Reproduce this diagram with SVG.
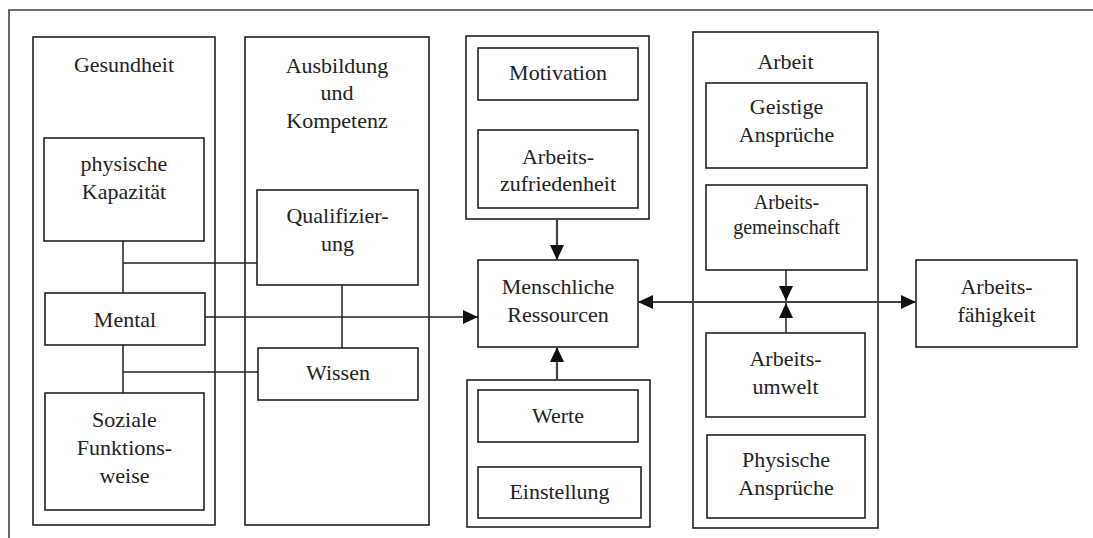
<svg xmlns="http://www.w3.org/2000/svg" width="1093" height="538" viewBox="0 0 1093 538">
<style>
.b{fill:#fff;stroke:#222;stroke-width:1.6}
.g{fill:none;stroke:#222;stroke-width:1.6}
text{font-size:22px;fill:#222;text-anchor:middle}
.s{font-size:20px}
.c{fill:none;stroke:#222;stroke-width:1.5}
.a{fill:none;stroke:#444;stroke-width:2.2}
.f{fill:none;stroke:#444;stroke-width:1.6}
</style>
<defs>
<marker id="ah" markerUnits="userSpaceOnUse" markerWidth="15" markerHeight="14" refX="15" refY="7" orient="auto-start-reverse">
<path d="M0,0 L15,7 L0,14 z" fill="#111"/>
</marker>
</defs>
<rect width="1093" height="538" fill="#fff"/>
<g id="frame">
<path class="f" d="M9,538 L9,10 L1093,10"/>
</g>
<g font-family="Liberation Serif, serif">
<g id="gesundheit">
<rect class="g" x="33" y="37" width="182" height="488"/>
<text x="124" y="72">Gesundheit</text>
</g>
<g id="physische">
<rect class="b" x="44" y="138" width="160" height="103"/>
<text x="124" y="171">physische</text>
<text x="124" y="199">Kapazität</text>
</g>
<g id="mental">
<rect class="b" x="45" y="293" width="160" height="52"/>
<text x="125" y="327">Mental</text>
</g>
<g id="soziale">
<rect class="b" x="45" y="393" width="159" height="117"/>
<text x="124.5" y="427">Soziale</text>
<text x="124.5" y="455">Funktions-</text>
<text x="124.5" y="483">weise</text>
</g>
<g id="ausbildung">
<rect class="g" x="245" y="37" width="184" height="488"/>
<text x="337" y="73">Ausbildung</text>
<text x="337" y="100">und</text>
<text x="337" y="128">Kompetenz</text>
</g>
<g id="qualifizierung">
<rect class="b" x="257" y="190" width="161" height="95"/>
<text x="337.5" y="223">Qualifizier-</text>
<text x="337.5" y="251">ung</text>
</g>
<g id="wissen">
<rect class="b" x="258" y="348" width="160" height="52"/>
<text x="338" y="380">Wissen</text>
</g>
<g id="gruppe-oben">
<rect class="g" x="466" y="36" width="183" height="183"/>
</g>
<g id="motivation">
<rect class="b" x="478" y="48" width="160" height="52"/>
<text x="558" y="80">Motivation</text>
</g>
<g id="arbeitszufriedenheit">
<rect class="b" x="478" y="130" width="160" height="78"/>
<text x="558" y="164">Arbeits-</text>
<text x="558" y="191">zufriedenheit</text>
</g>
<g id="menschliche-ressourcen">
<rect class="b" x="478" y="260" width="160" height="87"/>
<text x="558" y="294">Menschliche</text>
<text x="558" y="322">Ressourcen</text>
</g>
<g id="gruppe-unten">
<rect class="g" x="467" y="380" width="183" height="147"/>
</g>
<g id="werte">
<rect class="b" x="478" y="390" width="160" height="52"/>
<text x="558" y="423">Werte</text>
</g>
<g id="einstellung">
<rect class="b" x="478" y="467" width="163" height="51"/>
<text x="559.5" y="499">Einstellung</text>
</g>
<g id="arbeit">
<rect class="g" x="693" y="32" width="185" height="496"/>
<text x="785.5" y="69">Arbeit</text>
</g>
<g id="geistige">
<rect class="b" x="706" y="83" width="161" height="85"/>
<text x="786.5" y="114">Geistige</text>
<text x="786.5" y="142">Ansprüche</text>
</g>
<g id="arbeitsgemeinschaft">
<rect class="b" x="706" y="185" width="161" height="85"/>
<text class="s" x="786.5" y="209">Arbeits-</text>
<text class="s" x="786.5" y="234">gemeinschaft</text>
</g>
<g id="arbeitsumwelt">
<rect class="b" x="706" y="333" width="159" height="84"/>
<text x="785.5" y="366">Arbeits-</text>
<text x="785.5" y="394">umwelt</text>
</g>
<g id="physische-ansprueche">
<rect class="b" x="707" y="435" width="158" height="83"/>
<text x="786" y="467">Physische</text>
<text x="786" y="495">Ansprüche</text>
</g>
<g id="arbeitsfaehigkeit">
<rect class="b" x="916" y="260" width="161" height="87"/>
<text x="996.5" y="294">Arbeits-</text>
<text x="996.5" y="322">fähigkeit</text>
</g>
</g>
<g id="connectors">
<path class="c" d="M123,241 L123,293 M123,263 L257,263"/>
<path class="c" d="M123,345 L123,393 M123,372 L258,372"/>
<path class="c" d="M342,285 L342,348"/>
<path class="c" d="M205,317 L478,317" marker-end="url(#ah)"/>
<path class="a" d="M557,219 L557,260" marker-end="url(#ah)"/>
<path class="a" d="M557,380 L557,347" marker-end="url(#ah)"/>
<path class="a" d="M638,302 L916,302" marker-start="url(#ah)" marker-end="url(#ah)"/>
<path class="c" d="M786,270 L786,301" marker-end="url(#ah)"/>
<path class="c" d="M786,333 L786,303" marker-end="url(#ah)"/>
</g>
</svg>
